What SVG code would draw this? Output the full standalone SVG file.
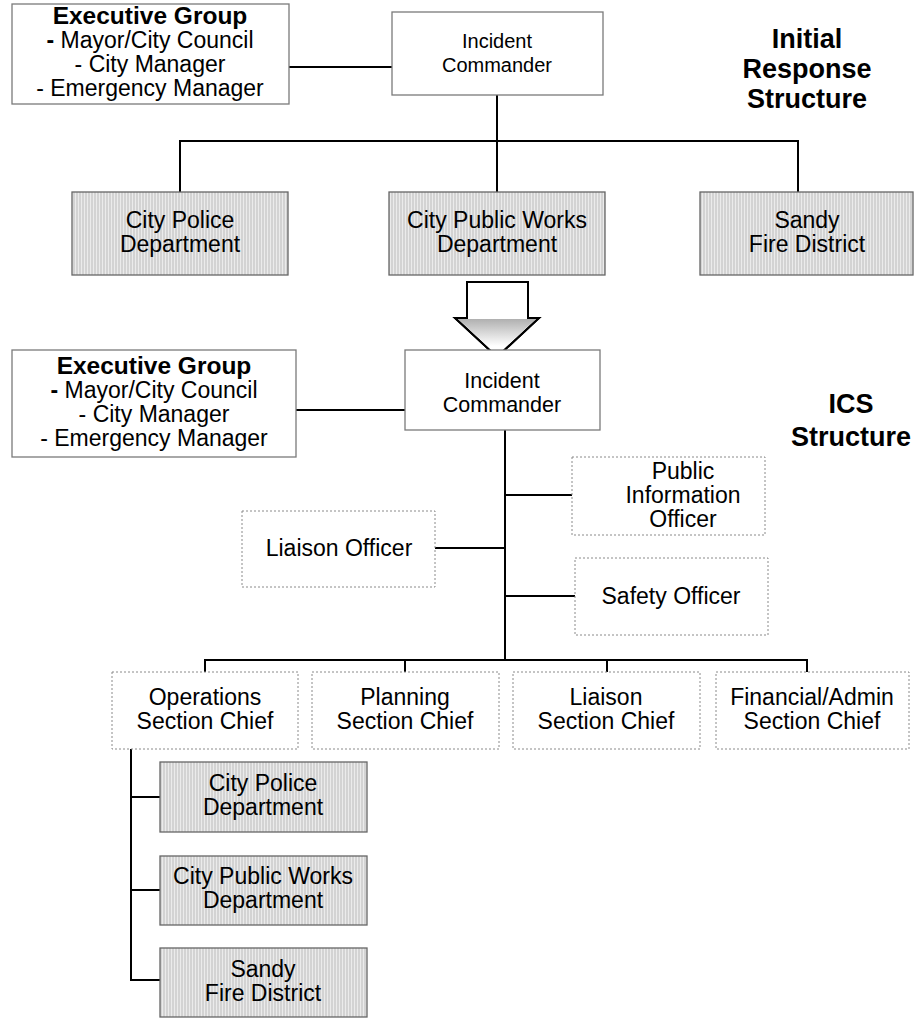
<svg xmlns="http://www.w3.org/2000/svg" width="914" height="1019" viewBox="0 0 914 1019">
<style>
text{font-family:"Liberation Sans",Arial,sans-serif;font-size:23px;fill:#000;text-anchor:middle}
.b{font-weight:bold;font-size:24.5px}
.ic1{font-size:20px}
.ic2{font-size:21.5px}
.h{font-weight:bold;font-size:27px}
.solid{fill:#fff;stroke:#7a7a7a;stroke-width:1.3}
.dot{fill:#fff;stroke:#8a8a8a;stroke-width:1;stroke-dasharray:2 2}
.shade{fill:url(#stripes);stroke:#666;stroke-width:1.3}
.conn{stroke:#000;stroke-width:2;fill:none}
</style>
<defs>
<pattern id="stripes" width="3" height="10" patternUnits="userSpaceOnUse">
<rect width="3" height="10" fill="#d3d3d3"/>
<rect width="1" height="10" fill="#ebebeb"/>
</pattern>
<linearGradient id="head" x1="0" y1="0" x2="0" y2="1">
<stop offset="0" stop-color="#b0b0b0"/>
<stop offset="0.75" stop-color="#ffffff"/>
</linearGradient>
</defs>

<g id="connectors">
<path class="conn" d="M289 67H392"/>
<path class="conn" d="M497 95V192"/>
<path class="conn" d="M180 192V141H798V192"/>
<path class="conn" d="M296 410H405"/>
<path class="conn" d="M505 430V660"/>
<path class="conn" d="M435 548H505"/>
<path class="conn" d="M505 495H572"/>
<path class="conn" d="M505 596H575"/>
<path class="conn" d="M205 672V660H807V672"/>
<path class="conn" d="M405 660V672"/>
<path class="conn" d="M607 660V672"/>
<path class="conn" d="M131 749V980H160"/>
<path class="conn" d="M131 797H160"/>
<path class="conn" d="M131 890H160"/>
</g>

<g id="exec1">
<rect class="solid" x="12" y="4" width="277" height="100"/>
<text x="150" y="24" class="b">Executive Group</text>
<text x="150" y="48"><tspan style="font-weight:bold">-</tspan> Mayor/City Council</text>
<text x="150" y="72">- City Manager</text>
<text x="150" y="96">- Emergency Manager</text>
</g>

<g id="ic1">
<rect class="solid" x="392" y="12" width="211" height="83"/>
<text class="ic1" x="497" y="48">Incident</text>
<text class="ic1" x="497" y="72">Commander</text>
</g>

<g id="title1">
<text class="h" x="807" y="48">Initial</text>
<text class="h" x="807" y="78">Response</text>
<text class="h" x="807" y="108">Structure</text>
</g>

<g id="police1">
<rect class="shade" x="72" y="192" width="216" height="83"/>
<text x="180" y="228">City Police</text>
<text x="180" y="252">Department</text>
</g>
<g id="works1">
<rect class="shade" x="389" y="192" width="216" height="83"/>
<text x="497" y="228">City Public Works</text>
<text x="497" y="252">Department</text>
</g>
<g id="fire1">
<rect class="shade" x="700" y="192" width="213" height="83"/>
<text x="807" y="228">Sandy</text>
<text x="807" y="252">Fire District</text>
</g>

<g id="arrow">
<polygon points="467,282 528,282 528,318 539,318 497,357 455,318 467,318" fill="#fff" stroke="#000" stroke-width="2" stroke-linejoin="miter"/>
<polygon points="468,319 527,319 536,319 497,355 458,319" fill="url(#head)" stroke="none"/>
<polyline points="528,318 539,318 497,357 455,318 467,318" fill="none" stroke="#000" stroke-width="2"/>
</g>

<g id="exec2">
<rect class="solid" x="12" y="350" width="284" height="107"/>
<text x="154" y="374" class="b">Executive Group</text>
<text x="154" y="398"><tspan style="font-weight:bold">-</tspan> Mayor/City Council</text>
<text x="154" y="422">- City Manager</text>
<text x="154" y="446">- Emergency Manager</text>
</g>

<g id="ic2">
<rect class="solid" x="405" y="350" width="195" height="80"/>
<text class="ic2" x="502" y="388">Incident</text>
<text class="ic2" x="502" y="412">Commander</text>
</g>

<g id="title2">
<text class="h" x="851" y="413">ICS</text>
<text class="h" x="851" y="446">Structure</text>
</g>

<g id="pio">
<rect class="dot" x="572" y="457" width="193" height="78"/>
<text x="683" y="479">Public</text>
<text x="683" y="503">Information</text>
<text x="683" y="527">Officer</text>
</g>
<g id="liaison-officer">
<rect class="dot" x="242" y="511" width="193" height="76"/>
<text x="339" y="556">Liaison Officer</text>
</g>
<g id="safety">
<rect class="dot" x="575" y="558" width="193" height="77"/>
<text x="671" y="604">Safety Officer</text>
</g>

<g id="ops">
<rect class="dot" x="112" y="672" width="186" height="77"/>
<text x="205" y="705">Operations</text>
<text x="205" y="729">Section Chief</text>
</g>
<g id="planning">
<rect class="dot" x="312" y="672" width="187" height="77"/>
<text x="405" y="705">Planning</text>
<text x="405" y="729">Section Chief</text>
</g>
<g id="liaison-section">
<rect class="dot" x="513" y="672" width="187" height="77"/>
<text x="606" y="705">Liaison</text>
<text x="606" y="729">Section Chief</text>
</g>
<g id="finance">
<rect class="dot" x="716" y="672" width="193" height="77"/>
<text x="812" y="705">Financial/Admin</text>
<text x="812" y="729">Section Chief</text>
</g>

<g id="police2">
<rect class="shade" x="160" y="762" width="207" height="70"/>
<text x="263" y="791">City Police</text>
<text x="263" y="815">Department</text>
</g>
<g id="works2">
<rect class="shade" x="160" y="856" width="207" height="69"/>
<text x="263" y="884">City Public Works</text>
<text x="263" y="908">Department</text>
</g>
<g id="fire2">
<rect class="shade" x="160" y="948" width="207" height="69"/>
<text x="263" y="977">Sandy</text>
<text x="263" y="1001">Fire District</text>
</g>
</svg>
